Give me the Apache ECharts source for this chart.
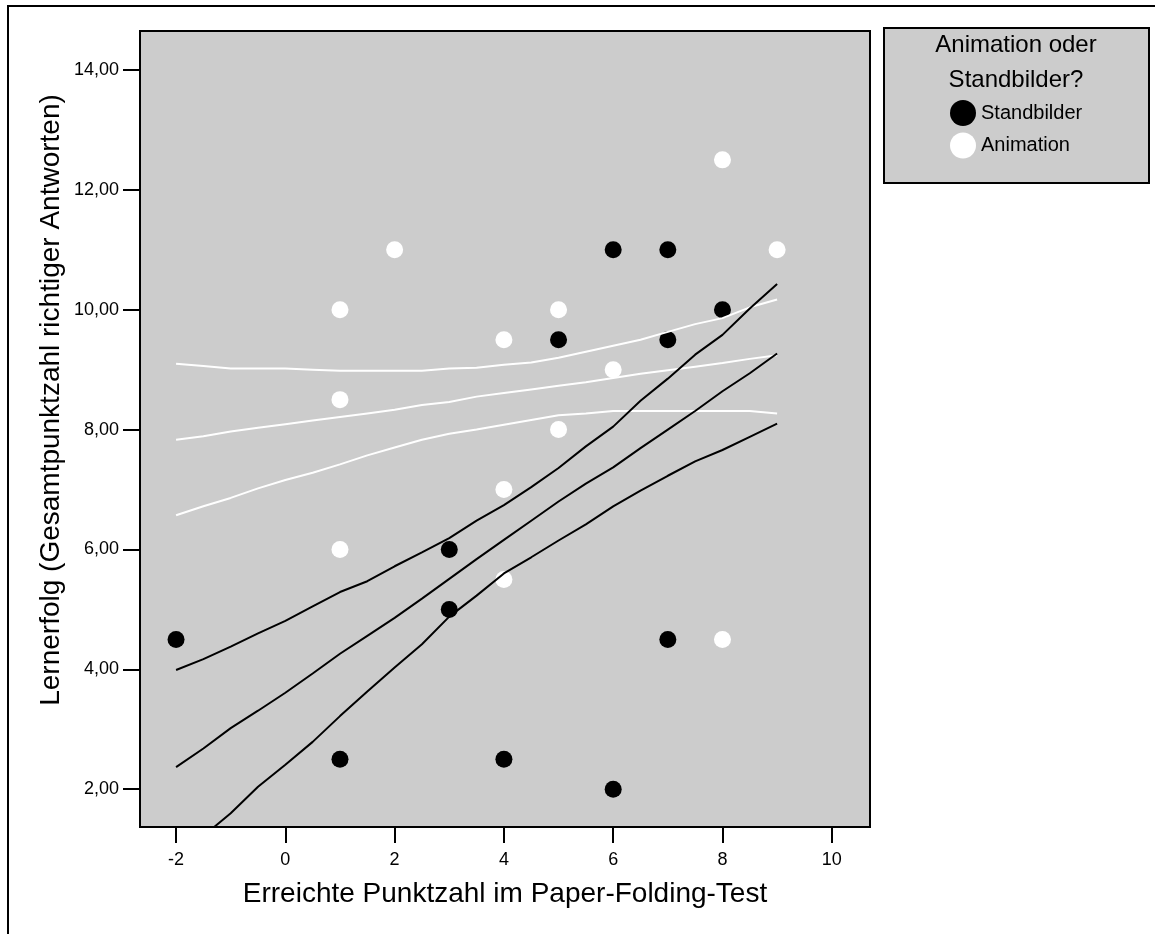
<!DOCTYPE html>
<html>
<head>
<meta charset="utf-8">
<script src="https://cdn.jsdelivr.net/npm/echarts@6/dist/echarts.min.js"></script>
<style>
  html, body { margin: 0; padding: 0; background: #ffffff; }
  #chart { width: 1155px; height: 934px; }
</style>
</head>
<body>
<div id="chart"></div>
<script>
// ---- Data ----
const xTicks = [-2, 0, 2, 4, 6, 8, 10];
const yTicks = [2, 4, 6, 8, 10, 12, 14];

const standbilderX = [-2, 1, 3, 3, 4, 5, 6, 6, 7, 7, 7, 8];
const standbilderY = [4.5, 2.5, 6, 5, 2.5, 9.5, 11, 2, 11, 9.5, 4.5, 10];

const animationX = [1, 1, 1, 2, 4, 4, 4, 5, 5, 6, 8, 8, 9];
const animationY = [10, 8.5, 6, 11, 9.5, 7, 5.5, 10, 8, 9, 12.5, 4.5, 11];

// fit lines and confidence bands at these x positions
const lineX = [-2, -1.5, -1, -0.5, 0, 0.5, 1, 1.5, 2, 2.5, 3, 3.5, 4, 4.5, 5, 5.5, 6, 6.5, 7, 7.5, 8, 8.5, 9];

const standUpper = [3.99, 4.17, 4.38, 4.60, 4.81, 5.05, 5.29, 5.47, 5.72, 5.95, 6.19, 6.48, 6.74, 7.04, 7.36, 7.72, 8.05, 8.48, 8.85, 9.25, 9.58, 10.02, 10.43];
const standFit   = [2.37, 2.68, 3.02, 3.31, 3.61, 3.93, 4.26, 4.56, 4.86, 5.18, 5.51, 5.84, 6.16, 6.48, 6.80, 7.10, 7.37, 7.69, 8.00, 8.31, 8.64, 8.94, 9.27];
const standLower = [0.84, 1.22, 1.60, 2.04, 2.41, 2.79, 3.22, 3.63, 4.03, 4.42, 4.88, 5.23, 5.60, 5.87, 6.15, 6.42, 6.72, 6.98, 7.23, 7.47, 7.66, 7.88, 8.10];

const animUpper = [9.10, 9.06, 9.02, 9.02, 9.02, 9.00, 8.98, 8.98, 8.98, 8.98, 9.02, 9.03, 9.08, 9.12, 9.20, 9.30, 9.40, 9.50, 9.63, 9.76, 9.86, 10.04, 10.17];
const animFit   = [7.83, 7.89, 7.97, 8.03, 8.09, 8.15, 8.21, 8.27, 8.33, 8.41, 8.46, 8.55, 8.61, 8.67, 8.73, 8.79, 8.86, 8.93, 8.99, 9.05, 9.11, 9.18, 9.24];
const animLower = [6.57, 6.72, 6.86, 7.02, 7.16, 7.28, 7.42, 7.57, 7.70, 7.83, 7.93, 8.00, 8.08, 8.16, 8.24, 8.27, 8.31, 8.31, 8.31, 8.31, 8.31, 8.31, 8.27];

const xTitle = 'Erreichte Punktzahl im Paper-Folding-Test';
const yTitle = 'Lernerfolg (Gesamtpunktzahl richtiger Antworten)';
const legendTitle = ['Animation oder', 'Standbilder?'];
const seriesNames = ['Standbilder', 'Animation'];

// ---- Build ----
const FONT = '"Liberation Sans", Arial, sans-serif';
const pairs = (xs, ys) => xs.map((x, i) => [x, ys[i]]);

function fitLine(ys, color) {
  return {
    type: 'line',
    data: pairs(lineX, ys),
    showSymbol: false,
    symbol: 'none',
    silent: true,
    clip: true,
    z: 5,
    lineStyle: { color: color, width: 2 },
    emphasis: { disabled: true }
  };
}

const chart = echarts.init(document.getElementById('chart'), null, { renderer: 'canvas' });

const option = {
  animation: false,
  backgroundColor: '#ffffff',
  grid: {
    left: 140, top: 31, width: 730, height: 796,
    show: true,
    backgroundColor: '#cccccc',
    borderColor: '#000000',
    borderWidth: 2
  },
  xAxis: {
    type: 'value',
    min: -2.66, max: 10.7,
    splitLine: { show: false },
    axisLine: { show: false, onZero: false },
    axisTick: { show: true, length: 16, lineStyle: { color: '#000', width: 2 }, customValues: xTicks },
    axisLabel: { customValues: xTicks, fontSize: 18, color: '#000', margin: 24, fontFamily: FONT },
    name: xTitle,
    nameLocation: 'middle',
    nameGap: 53,
    nameTextStyle: { fontSize: 28, color: '#000', fontFamily: FONT }
  },
  yAxis: {
    type: 'value',
    min: 1.37, max: 14.65,
    splitLine: { show: false },
    axisLine: { show: false, onZero: false },
    axisTick: { show: true, length: 17, lineStyle: { color: '#000', width: 2 }, customValues: yTicks },
    axisLabel: {
      customValues: yTicks, fontSize: 18, color: '#000', margin: 21, fontFamily: FONT,
      formatter: v => v.toFixed(2).replace('.', ',')
    }
  },
  legend: {
    orient: 'vertical',
    left: 950, top: 100,
    padding: 0,
    itemWidth: 26, itemHeight: 26, itemGap: 6.5,
    icon: 'circle',
    selectedMode: false,
    data: seriesNames,
    textStyle: { fontSize: 20, color: '#000', fontFamily: FONT }
  },
  graphic: [
    { type: 'polyline', silent: true, z: 0,
      shape: { points: [[8, 940], [8, 6], [1160, 6]] },
      style: { stroke: '#000', lineWidth: 2, fill: null } },
    { type: 'rect', silent: true, z: 0,
      shape: { x: 884, y: 28, width: 265, height: 155 },
      style: { fill: '#cccccc', stroke: '#000', lineWidth: 2 } },
    { type: 'text', silent: true, z: 1, x: 1016, y: 45,
      style: { text: legendTitle[0], fontSize: 24, fontFamily: FONT, fill: '#000', textAlign: 'center', textVerticalAlign: 'middle' } },
    { type: 'text', silent: true, z: 1, x: 1016, y: 80,
      style: { text: legendTitle[1], fontSize: 24, fontFamily: FONT, fill: '#000', textAlign: 'center', textVerticalAlign: 'middle' } },
    { type: 'text', silent: true, z: 1, x: 51, y: 400, rotation: Math.PI / 2,
      style: { text: yTitle, fontSize: 28, fontFamily: FONT, fill: '#000', textAlign: 'center', textVerticalAlign: 'middle' } }
  ],
  series: [
    {
      name: seriesNames[0], type: 'scatter', data: pairs(standbilderX, standbilderY),
      symbol: 'circle', symbolSize: 17, z: 3, silent: true,
      itemStyle: { color: '#000000', borderWidth: 0, opacity: 1 }
    },
    {
      name: seriesNames[1], type: 'scatter', data: pairs(animationX, animationY),
      symbol: 'circle', symbolSize: 17, z: 3, silent: true,
      itemStyle: { color: '#ffffff', borderWidth: 0, opacity: 1 }
    },
    fitLine(animUpper, '#ffffff'),
    fitLine(animFit, '#ffffff'),
    fitLine(animLower, '#ffffff'),
    fitLine(standUpper, '#000000'),
    fitLine(standFit, '#000000'),
    fitLine(standLower, '#000000')
  ]
};

chart.setOption(option);
</script>
</body>
</html>
